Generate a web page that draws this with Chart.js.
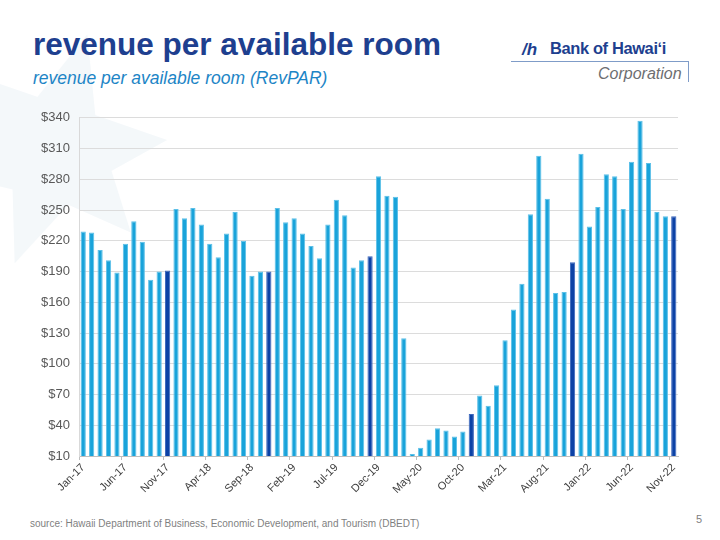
<!DOCTYPE html>
<html>
<head>
<meta charset="utf-8">
<script src="https://cdn.jsdelivr.net/npm/chart.js@4.4.1/dist/chart.umd.min.js"></script>
<style>
  body { margin: 0; background: #fff; font-family: "Liberation Sans", Arial, sans-serif; }
  #page { position: relative; width: 720px; height: 540px; overflow: hidden; background: #fff; }
  #bg { position: absolute; left: 0; top: 0; }
  #title { position: absolute; left: 33px; top: 26px; font-size: 31.5px; font-weight: bold; color: #1e3f8f; white-space: nowrap; }
  #subtitle { position: absolute; left: 33px; top: 68px; font-size: 17.5px; font-style: italic; color: #1d85c6; white-space: nowrap; }
  #logo { position: absolute; left: 511px; top: 34px; width: 178px; height: 48px; }
  #logo .name { position: absolute; left: 39px; top: 5px; font-size: 16.5px; font-weight: bold; color: #1e3f8f; white-space: nowrap; letter-spacing: -0.4px; }
  #logo .icon { position: absolute; left: 11px; top: 6px; font-size: 17px; font-weight: bold; color: #1e3f8f; font-style: italic; }
  #logo .rule { position: absolute; left: 0; top: 27px; width: 177px; height: 0; border-top: 1.5px solid #7f9cc8; }
  #logo .vrule { position: absolute; left: 177px; top: 27px; width: 0; height: 21px; border-left: 1.5px solid #7f9cc8; }
  #logo .corp { position: absolute; left: 87px; top: 31px; font-size: 16px; font-style: italic; color: #6d6e71; white-space: nowrap; }
  #chartBox { position: absolute; left: 20px; top: 101px; width: 665px; height: 404px; }
  #source { position: absolute; left: 30px; top: 518px; font-size: 10px; color: #7f7f7f; white-space: nowrap; }
  #pagenum { position: absolute; left: 696px; top: 513px; font-size: 11px; color: #7f7f7f; }
</style>
</head>
<body>
<div id="page">
  <svg id="bg" width="260" height="340">
    <g fill="#f2f7fa" opacity="0.8" transform="translate(55,150)">
      <polygon points="0,0 40,-35 112,-10 40,30"/>
      <polygon points="0,0 40,-35 120,-5 40,30" transform="rotate(-72)"/>
      <polygon points="0,0 40,-35 112,-5 40,30" transform="rotate(-135)"/>
      <polygon points="0,0 40,-35 112,-5 40,30" transform="rotate(170)"/>
      <polygon points="0,0 40,-35 120,-5 40,30" transform="rotate(112)"/>
      <polygon points="0,0 40,-35 112,-5 40,30" transform="rotate(50)"/>
    </g>
  </svg>
  <div id="title">revenue per available room</div>
  <div id="subtitle">revenue per available room (RevPAR)</div>
  <div id="logo">
    <div class="icon">/h</div>
    <div class="name">Bank of Hawaiʻi</div>
    <div class="rule"></div>
    <div class="vrule"></div>
    <div class="corp">Corporation</div>
  </div>
  <div id="chartBox"><canvas id="myChart"></canvas></div>
  <div id="source">source: Hawaii Department of Business, Economic Development, and Tourism (DBEDT)</div>
  <div id="pagenum">5</div>
</div>

<script>
var months = [
  'Jan-17', 'Feb-17', 'Mar-17', 'Apr-17', 'May-17', 'Jun-17', 'Jul-17', 'Aug-17', 'Sep-17', 'Oct-17', 'Nov-17', 'Dec-17',
  'Jan-18', 'Feb-18', 'Mar-18', 'Apr-18', 'May-18', 'Jun-18', 'Jul-18', 'Aug-18', 'Sep-18', 'Oct-18', 'Nov-18', 'Dec-18',
  'Jan-19', 'Feb-19', 'Mar-19', 'Apr-19', 'May-19', 'Jun-19', 'Jul-19', 'Aug-19', 'Sep-19', 'Oct-19', 'Nov-19', 'Dec-19',
  'Jan-20', 'Feb-20', 'Mar-20', 'Apr-20', 'May-20', 'Jun-20', 'Jul-20', 'Aug-20', 'Sep-20', 'Oct-20', 'Nov-20', 'Dec-20',
  'Jan-21', 'Feb-21', 'Mar-21', 'Apr-21', 'May-21', 'Jun-21', 'Jul-21', 'Aug-21', 'Sep-21', 'Oct-21', 'Nov-21', 'Dec-21',
  'Jan-22', 'Feb-22', 'Mar-22', 'Apr-22', 'May-22', 'Jun-22', 'Jul-22', 'Aug-22', 'Sep-22', 'Oct-22', 'Nov-22'
];

var revpar = [
  229, 228, 211, 201, 189, 217, 239, 219, 182, 190, 191, 251,
  242, 252, 236, 217, 204, 227, 248, 220, 186, 190, 190, 252,
  238, 242, 227, 215, 203, 236, 260, 245, 194, 201, 205, 283,
  264, 263, 125, 12, 18, 26, 37, 35, 29, 34, 51, 69,
  59, 79, 123, 153, 178, 246, 303, 261, 169, 170, 199, 305,
  234, 253, 285, 283, 251, 297, 337, 296, 248, 244, 244
];

// y axis ticks
var yMin = 10;
var yMax = 340;
var yStep = 30;

// every 5th month gets a label
var labelEvery = 5;
// novembers are drawn dark
var highlightMonth = 'Nov';

var lightBlue = '#19a3da';
var lightEdge = '#5cc0e8';
var darkBlue = '#0c42a6';
var darkEdge = '#3d68bd';

var barColors = months.map(function (m) { return m.indexOf(highlightMonth) === 0 ? darkBlue : lightBlue; });
var barEdges = months.map(function (m) { return m.indexOf(highlightMonth) === 0 ? darkEdge : lightEdge; });

var ctx = document.getElementById('myChart').getContext('2d');

var myChart = new Chart(ctx, {
  type: 'bar',
  data: {
    labels: months,
    datasets: [{
      label: 'RevPAR',
      data: revpar,
      backgroundColor: barColors,
      borderColor: barEdges,
      borderWidth: { left: 1, right: 1, top: 1, bottom: 0 },
      barPercentage: 0.62,
      categoryPercentage: 1.0
    }]
  },
  options: {
    responsive: true,
    maintainAspectRatio: false,
    animation: false,
    layout: { padding: { top: 8, right: 7, left: 0, bottom: 0 } },
    plugins: {
      legend: { display: false },
      tooltip: { enabled: false }
    },
    scales: {
      x: {
        offset: true,
        afterFit: function (scale) { scale.height = 49; },
        grid: {
          offset: true,
          drawOnChartArea: false,
          drawTicks: true,
          tickLength: 4,
          color: function (c) { return c.index % labelEvery === 0 ? '#bfbfbf' : 'rgba(0,0,0,0)'; }
        },
        border: { color: '#bfbfbf', width: 1 },
        ticks: {
          autoSkip: false,
          maxRotation: 45,
          minRotation: 45,
          padding: 1,
          color: '#404040',
          font: { family: 'Liberation Sans', size: 11 },
          callback: function (value, index) {
            return index % labelEvery === 0 ? months[index] : '';
          }
        }
      },
      y: {
        min: yMin,
        max: yMax,
        afterFit: function (scale) { scale.width = 59; },
        grid: { color: '#dcdcdc', lineWidth: 1, drawTicks: false },
        border: { color: '#d9d9d9', width: 1 },
        ticks: {
          stepSize: yStep,
          padding: 9,
          color: '#595959',
          font: { family: 'Liberation Sans', size: 13 },
          callback: function (v) { return '$' + v; }
        }
      }
    }
  }
});
</script>
</body>
</html>
